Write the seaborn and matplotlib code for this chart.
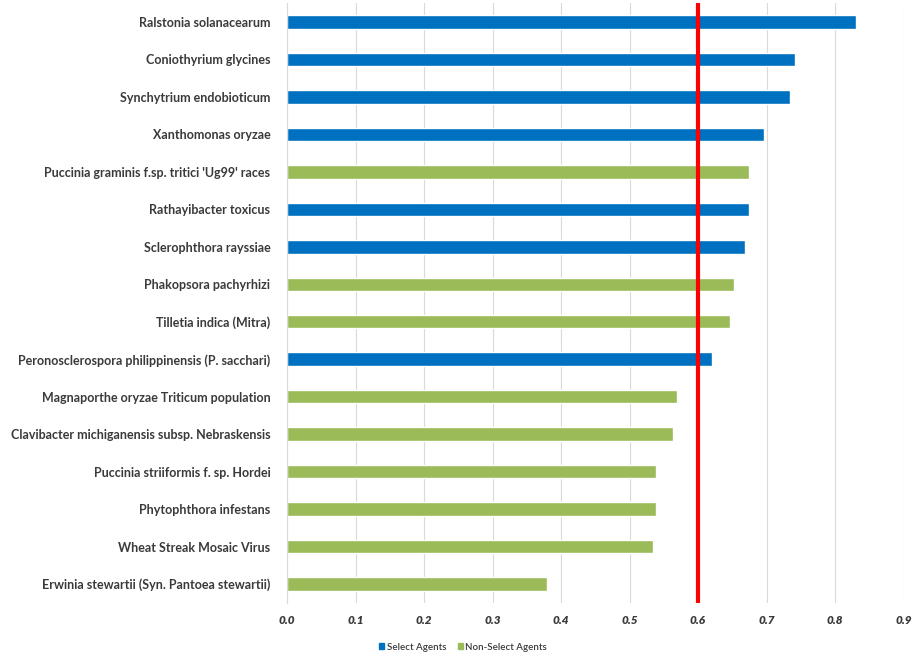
import pandas as pd
import seaborn as sns
import matplotlib.pyplot as plt
from matplotlib.patches import Patch

# pathogens, top to bottom as in the chart
pathogens = [
    "Ralstonia solanacearum",
    "Coniothyrium glycines",
    "Synchytrium endobioticum",
    "Xanthomonas oryzae",
    "Puccinia graminis f.sp. tritici 'Ug99' races",
    "Rathayibacter toxicus",
    "Sclerophthora rayssiae",
    "Phakopsora pachyrhizi",
    "Tilletia indica (Mitra)",
    "Peronosclerospora philippinensis (P. sacchari)",
    "Magnaporthe oryzae Triticum population",
    "Clavibacter michiganensis subsp. Nebraskensis",
    "Puccinia striiformis f. sp. Hordei",
    "Phytophthora infestans",
    "Wheat Streak Mosaic Virus",
    "Erwinia stewartii (Syn. Pantoea stewartii)",
]
scores = [0.831, 0.741, 0.734, 0.697, 0.674, 0.674, 0.668, 0.652,
          0.646, 0.621, 0.570, 0.564, 0.539, 0.539, 0.534, 0.379]
groups = ["Select Agents"] * 4 + ["Non-Select Agents"] + ["Select Agents"] * 2 + \
         ["Non-Select Agents"] * 2 + ["Select Agents"] + ["Non-Select Agents"] * 6
threshold = 0.6
xticks = [0.0, 0.1, 0.2, 0.3, 0.4, 0.5, 0.6, 0.7, 0.8, 0.9]

df = pd.DataFrame({"Pathogen": pathogens, "Score": scores, "Group": groups})
colors = {"Select Agents": "#0070C0", "Non-Select Agents": "#9BBB59"}

sns.set_style("white")
plt.rcParams['font.family'] = ['Lato', 'DejaVu Sans']

fig = plt.figure(figsize=(9.13, 6.55), dpi=100)
ax = fig.add_axes([287 / 913, 1 - 602.75 / 655, (903.5 - 287) / 913, (602.75 - 3.25) / 655])

sns.barplot(data=df, y="Pathogen", x="Score", hue="Group", palette=colors,
            dodge=False, width=0.36, orient="h", ax=ax, legend=False,
            order=pathogens, saturation=1)

ax.axvline(threshold, color="#FF0000", lw=3, zorder=5)

ax.set_xlim(0, 0.9)
ax.set_xticks(xticks)
ax.set_xticklabels([f"{t:.1f}" for t in xticks], fontsize=8.5, fontweight="heavy",
                   style="italic", color="#3a3a3a")
ax.set_yticklabels(pathogens, fontsize=9, fontweight="bold", color="#3a3a3a")
ax.tick_params(axis="both", length=0)
ax.tick_params(axis="y", pad=12)
ax.tick_params(axis="x", pad=9)
ax.set_xlabel("")
ax.set_ylabel("")
ax.grid(axis="x", color="#D9D9D9", lw=0.8)
ax.set_axisbelow(True)
for s in ["top", "right", "bottom"]:
    ax.spines[s].set_visible(False)
ax.spines["left"].set_color("#D9D9D9")
ax.spines["left"].set_linewidth(0.8)

handles = [Patch(color=colors[g], label=g) for g in ["Select Agents", "Non-Select Agents"]]
leg = fig.legend(handles=handles, loc="center", bbox_to_anchor=(463 / 913, 1 - 647 / 655),
                 ncol=2, frameon=False, fontsize=7, handlelength=0.5, handleheight=0.5,
                 handletextpad=0.3, columnspacing=1.2, labelcolor="#3a3a3a")
for t in leg.get_texts():
    t.set_fontweight("semibold")

fig.savefig("out.png", dpi=100)
